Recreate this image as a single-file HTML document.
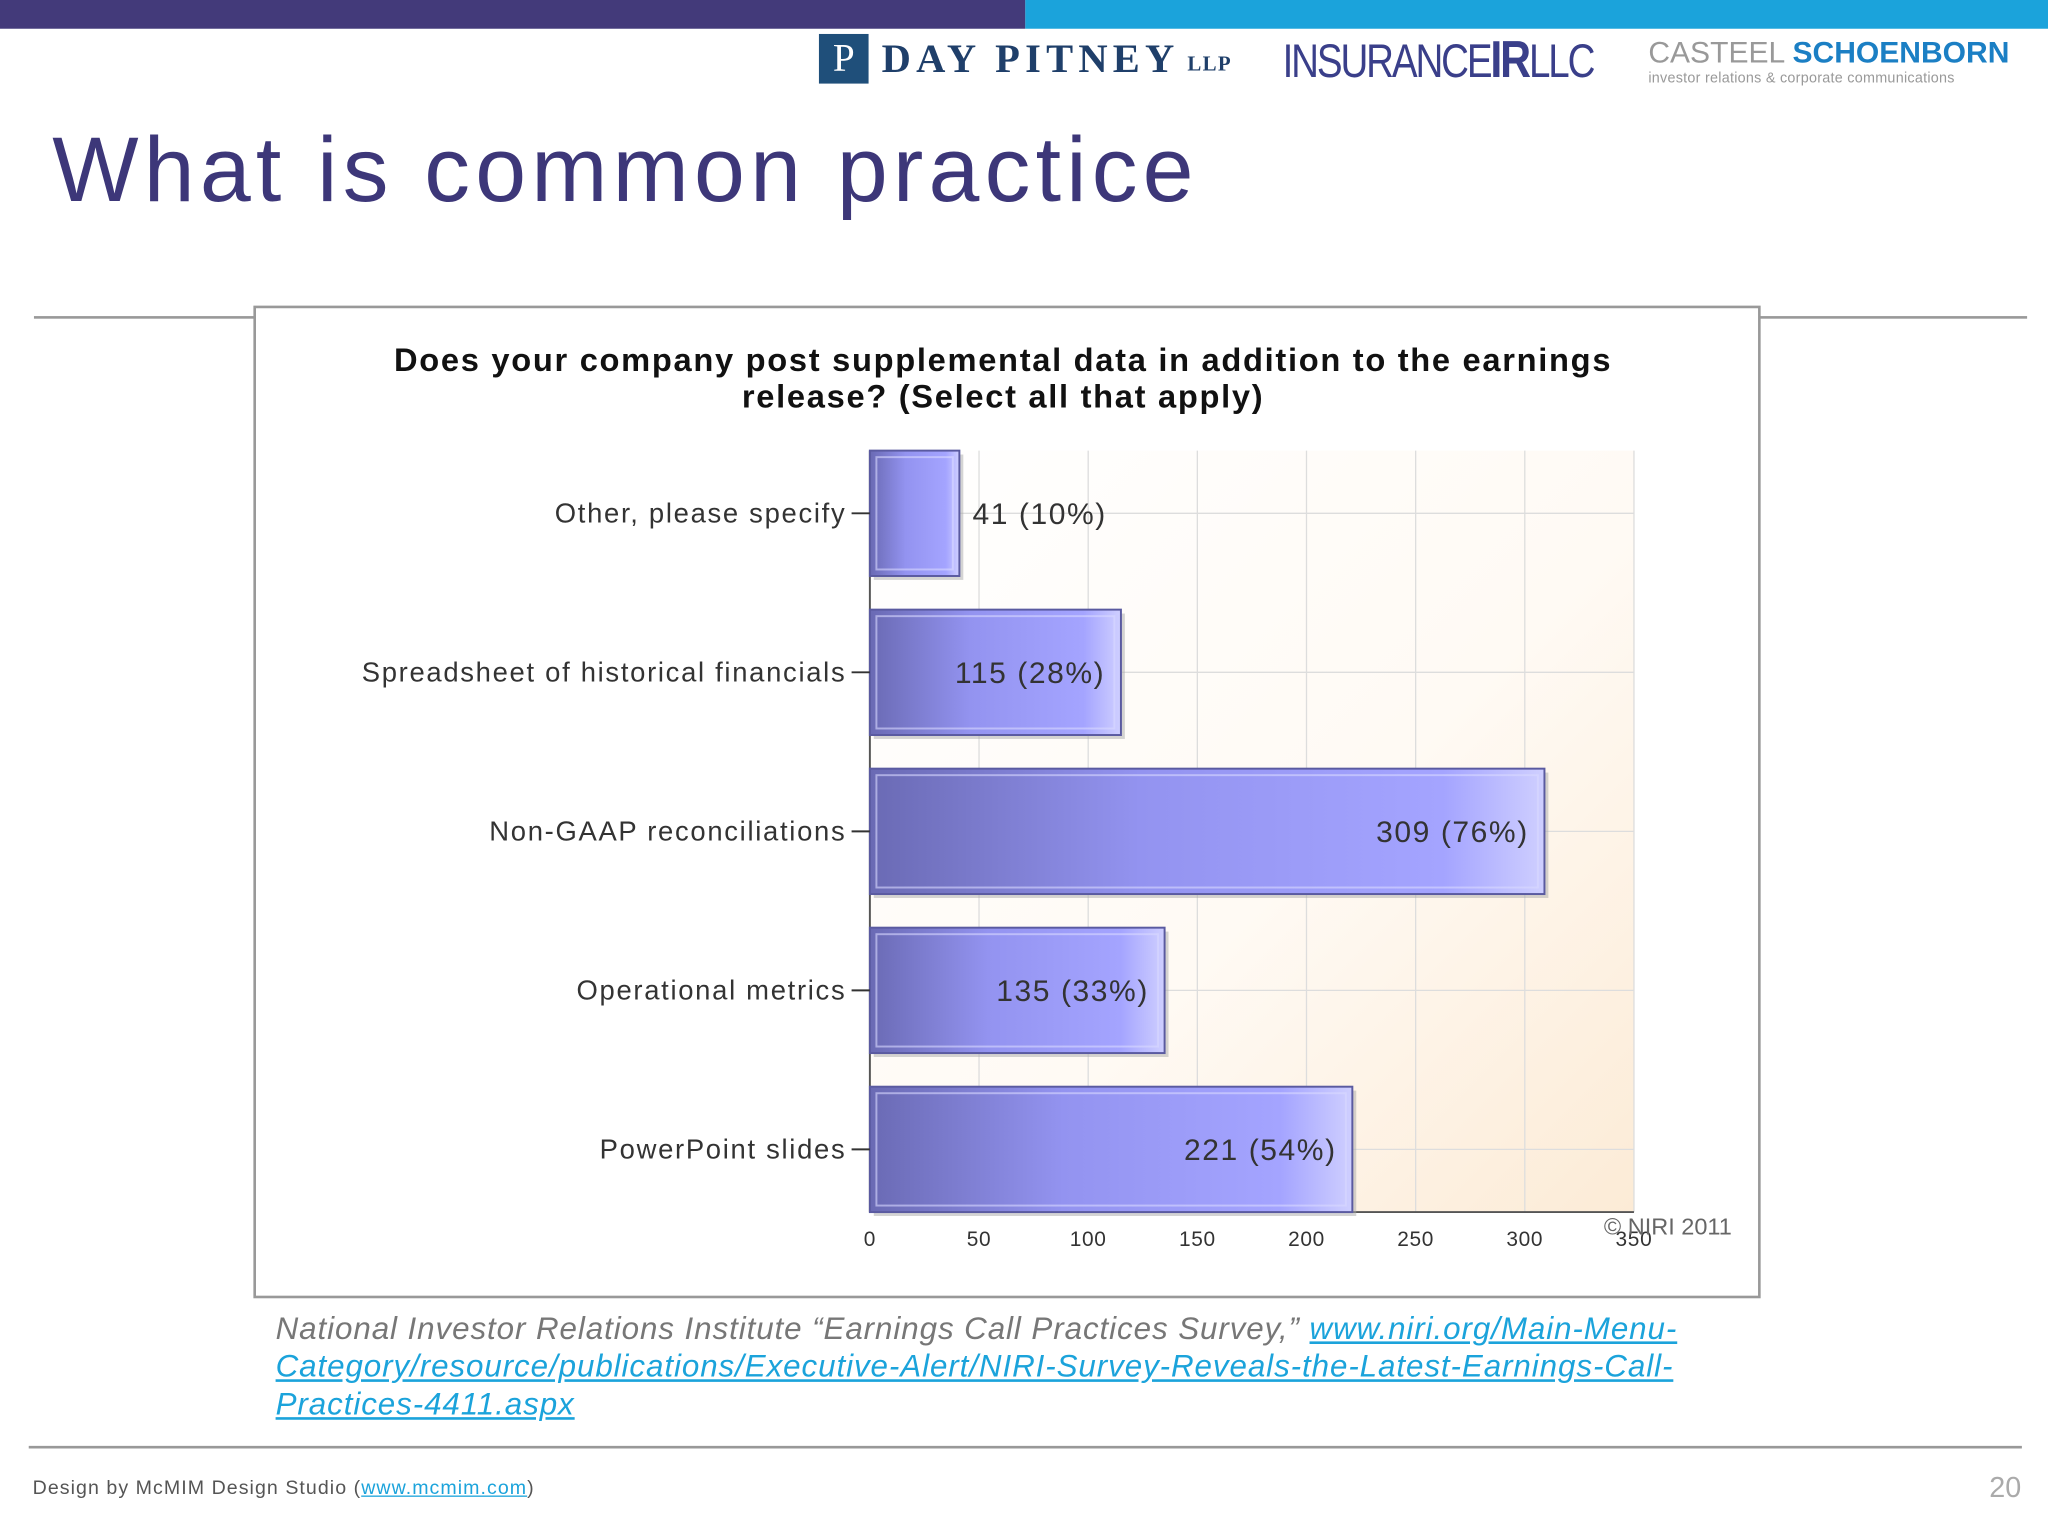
<!DOCTYPE html>
<html><head><meta charset="utf-8">
<style>
html,body{margin:0;padding:0;background:#fff;}
#wrap{width:1568px;height:1176px;position:relative;transform:scale(1.306122);transform-origin:0 0;font-family:"Liberation Sans",sans-serif;overflow:hidden;}
.abs{position:absolute;}
</style></head>
<body>
<div id="wrap">
  <div class="abs" style="left:0;top:0;width:785px;height:22px;background:#433a7a"></div>
  <div class="abs" style="left:785px;top:0;width:783px;height:22px;background:#1ba3db"></div>
  <div class="abs" style="left:627px;top:26px;height:38px;display:flex;align-items:center;">
    <div style="width:38px;height:38px;background:#1f4f7a;color:#fff;font-family:'Liberation Serif',serif;font-size:30px;text-align:center;line-height:38px">P</div>
    <span style="font-family:'Liberation Serif',serif;font-size:31px;color:#1f3f6a;letter-spacing:4px;margin-left:10px;font-weight:bold">DAY PITNEY</span>
    <span style="font-family:'Liberation Serif',serif;font-size:16px;color:#1f3f6a;margin-left:6px;font-weight:bold;margin-top:10px;letter-spacing:1px">LLP</span>
  </div>
  <div class="abs" style="left:982px;top:24px;font-size:36px;color:#3a3f8a;letter-spacing:-2px;transform:scaleX(0.82);transform-origin:0 0;white-space:nowrap">INSURANCE<b style="font-size:40px">IR</b>LLC</div>
  <div class="abs" style="left:1262px;top:26px;white-space:nowrap">
    <div style="font-size:23px;line-height:28px"><span style="color:#999">CASTEEL </span><b style="color:#1b7fc4">SCHOENBORN</b></div>
    <div style="font-size:11px;color:#999;letter-spacing:0.2px">investor relations &amp; corporate communications</div>
  </div>
  <div class="abs" style="left:40px;top:88px;font-size:70px;color:#3d3779;line-height:84px;letter-spacing:4px">What is common practice</div>
  <div class="abs" style="left:26px;top:242px;width:169px;height:2px;background:#999"></div>
  <div class="abs" style="left:1347px;top:242px;width:205px;height:2px;background:#999"></div>

  <svg class="abs" style="left:0;top:0" width="1568" height="1176">
    <defs>
      <linearGradient id="bg" x1="0" y1="0" x2="1" y2="1">
        <stop offset="0" stop-color="#ffffff"/><stop offset="0.55" stop-color="#fffaf4"/><stop offset="1" stop-color="#fcebd6"/>
      </linearGradient>
      <linearGradient id="bar" x1="0" y1="0" x2="1" y2="0">
        <stop offset="0" stop-color="#6a6ab4"/><stop offset="0.4" stop-color="#9393f0"/><stop offset="0.85" stop-color="#a4a4ff"/><stop offset="1" stop-color="#cfcfff"/>
      </linearGradient>
    </defs>
    <rect x="195" y="235" width="1152" height="758" fill="#fff" stroke="#999" stroke-width="2"/>
    <text x="768" y="284" text-anchor="middle" font-size="25" font-weight="bold" fill="#111" letter-spacing="1.3">Does your company post supplemental data in addition to the earnings</text>
    <text x="768" y="312" text-anchor="middle" font-size="25" font-weight="bold" fill="#111" letter-spacing="1.3">release? (Select all that apply)</text>
    <g id="plot"></g>
    <text x="1228" y="945" font-size="18" fill="#666">© NIRI 2011</text>
  </svg>

  <div class="abs" style="left:211px;top:1003px;width:1100px;font-size:24px;font-style:italic;color:#777;line-height:29px;letter-spacing:0.7px">National Investor Relations Institute “Earnings Call Practices Survey,” <a style="color:#1ba3db;text-decoration:underline">www.niri.org/Main-Menu-Category/resource/publications/Executive-Alert/NIRI-Survey-Reveals-the-Latest-Earnings-Call-Practices-4411.aspx</a></div>
  <div class="abs" style="left:22px;top:1107px;width:1526px;height:2px;background:#999"></div>
  <div class="abs" style="left:25px;top:1131px;font-size:15px;color:#555;letter-spacing:0.8px">Design by McMIM Design Studio (<a style="color:#1ba3db;text-decoration:underline">www.mcmim.com</a>)</div>
  <div class="abs" style="left:1523px;top:1126px;font-size:22px;color:#aaa">20</div>
</div>
<script>
const categories = ["Other, please specify","Spreadsheet of historical financials","Non-GAAP reconciliations","Operational metrics","PowerPoint slides"];
const values = [41,115,309,135,221];
const pctLabels = ["10%","28%","76%","33%","54%"];
const xTicks = [0,50,100,150,200,250,300,350];

const NS="http://www.w3.org/2000/svg";
const g=document.getElementById('plot');
const X0=666,X1=1251,Y0=345,Y1=928,xMax=350;
const xs=v=>X0+(X1-X0)*v/xMax;
const bh=96;
const step=(Y1-Y0-bh)/(categories.length-1);
const yc=i=>Y0+bh/2+step*i;
function mk(t,a){const e=document.createElementNS(NS,t);for(const k in a)e.setAttribute(k,a[k]);g.appendChild(e);return e;}
let bg=mk('rect',{x:X0,y:Y0,width:X1-X0,height:Y1-Y0,fill:'url(#bg)'});


xTicks.forEach(t=>{
  if(t>0){let l=mk('line',{x1:xs(t),x2:xs(t),y1:Y0,y2:Y1,stroke:'#ddd','stroke-width':1});
  
  }
  let tx=mk('text',{x:xs(t),y:Y1+26,'text-anchor':'middle','font-size':16,fill:'#333','letter-spacing':0.5});
  tx.textContent=t;
  
  
});
categories.forEach((c,i)=>{
  let l=mk('line',{x1:X0,x2:X1,y1:yc(i),y2:yc(i),stroke:'#ddd','stroke-width':1});
  
  
});
mk('line',{x1:X0,x2:X0,y1:Y0,y2:Y1,stroke:'#555','stroke-width':1.5});
mk('line',{x1:X0,x2:X1,y1:Y1,y2:Y1,stroke:'#555','stroke-width':1.5});
categories.forEach((c,i)=>{
  const y=yc(i)-bh/2, w=xs(values[i])-X0;
  let sh=mk('rect',{x:X0+3,y:y+3,width:w,height:bh,fill:'#aaa',opacity:0.5});
  
  
  let r=mk('rect',{x:X0,y:y,width:w,height:bh,fill:'url(#bar)',stroke:'#5a5aa0','stroke-width':1.5});
  
  
  mk('rect',{x:X0+5,y:y+5,width:Math.max(w-10,0),height:bh-10,fill:'none',stroke:'#d8d8ff','stroke-width':1.5,opacity:0.6});
  let tk=mk('line',{x1:X0-14,x2:X0,y1:yc(i),y2:yc(i),stroke:'#333','stroke-width':1.5});
  
  
  let lb=mk('text',{x:X0-18,y:yc(i)+7,'text-anchor':'end','font-size':21,fill:'#333','letter-spacing':1.3});
  lb.textContent=c;
  
  
  const inside=w>150;
  let vl=mk('text',{x:inside?xs(values[i])-12:xs(values[i])+10,y:yc(i)+8,'text-anchor':inside?'end':'start','font-size':23,fill:'#333','letter-spacing':1.2});
  vl.textContent=values[i]+' ('+pctLabels[i]+')';
  
  
});
</script>
</body></html>
